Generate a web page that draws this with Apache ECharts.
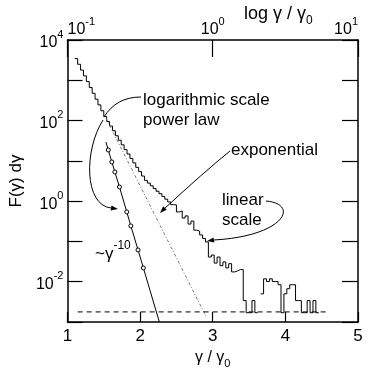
<!DOCTYPE html>
<html>
<head>
<meta charset="utf-8">
<script src="https://cdn.jsdelivr.net/npm/echarts@6/dist/echarts.min.js"></script>
<style>
html, body { margin: 0; padding: 0; background: #fff; }
#chart { width: 384px; height: 381px; }
</style>
</head>
<body>
<div id="chart"></div>
<script>
var FONT = 'Liberation Sans';

// histogram on the linear scale (bottom axis), bins of width 0.04 from 1.10
var binStart = 1.10;
var binWidth = 0.04;
var histF = [3460, 2500, 1790, 1290, 930, 660, 476, 340, 245, 175,
    126, 95, 73, 56, 42, 32.5, 25, 19, 14.8, 11.5,
    8.9, 6.9, 5.4, 4.2, 3.28, 2.81, 2.41, 2.05, 1.76, 1.53,
    1.31, 1.12, 0.955, 0.818, 0.81, 0.54, 0.57, 0.38, 0.43, 0.27,
    0.32, 0.19, 0.18, 0.145, 0.118, 0.097, 0.041, 0.046, 0.029, 0.041,
    0.025, 0.031, 0.022, 0.028, 0.0175, 0.0185, 0.020, 0.020, 0.0034, 0.0017,
    0.0017, 0.0034, 0.0017, null, 0.005, 0.0118, 0.0101, 0.0118, 0.0101, 0.0101,
    0.0084, 0.0017, 0.005, 0.0067, 0.0084, 0.0084, 0.0034, 0.0034, 0.0017, 0.0017,
    0.0034, 0.0017, 0.0034, 0.0017];

// exponential fit (linear scale)
var expGamma = [1.53, 2.905];
var expF = [115, 0.0014];

// power law ~gamma^-10 (log scale, top axis), first and last have no marker
var powGamma = [0.184, 0.191, 0.202, 0.212, 0.228, 0.256, 0.273, 0.306, 0.333, 0.429];
var powF = [29.4, 18.6, 9.4, 5.3, 2.25, 0.54, 0.243, 0.0615, 0.022, 0.001];

// one-count level
var floorGamma = [1.14, 4.56];
var floorF = [0.00178, 0.00178];

var yLabelExps = [-2, 0, 2, 4];

var histData = [];
histF.forEach(function (v, i) {
    var a = binStart + i * binWidth, b = a + binWidth;
    if (v == null) {
        histData.push([a, '-']);
    } else {
        histData.push([a, v]);
        histData.push([b, v]);
    }
});

var powData = powGamma.map(function (g, i) {
    var item = { value: [g, powF[i]] };
    if (i === 0 || i === powGamma.length - 1) item.symbol = 'none';
    return item;
});

var richNum = {
    b: { fontSize: 16, fontFamily: FONT, color: '#000', lineHeight: 22, verticalAlign: 'bottom' },
    s: { fontSize: 11, fontFamily: FONT, color: '#000', lineHeight: 14, verticalAlign: 'top' }
};
var richNumBig = {
    b: { fontSize: 17, fontFamily: FONT, color: '#000', lineHeight: 23, verticalAlign: 'bottom' },
    s: { fontSize: 12, fontFamily: FONT, color: '#000', lineHeight: 14, verticalAlign: 'top' }
};
var richSub = {
    b: { fontSize: 16, fontFamily: FONT, color: '#000', lineHeight: 20, verticalAlign: 'top' },
    u: { fontSize: 11, fontFamily: FONT, color: '#000', lineHeight: 14, verticalAlign: 'bottom', padding: [8, 0, 0, 0] }
};
var richSubBig = {
    b: { fontSize: 18, fontFamily: FONT, color: '#000', lineHeight: 22, verticalAlign: 'top' },
    u: { fontSize: 12, fontFamily: FONT, color: '#000', lineHeight: 14, verticalAlign: 'bottom', padding: [9, 0, 0, 0] }
};

function powLabel(v) {
    var e = Math.round(Math.log10(v));
    return '{b|10}{s|' + e + '}';
}

var lineAxis = { lineStyle: { color: '#000', width: 1.5 } };

var chart = echarts.init(document.getElementById('chart'));
chart.setOption({
    animation: false,
    backgroundColor: '#fff',
    grid: { left: 64, right: 26, top: 40, bottom: 59 },
    xAxis: [{
        type: 'value', position: 'bottom', min: 1, max: 5, interval: 1,
        axisLine: lineAxis,
        axisTick: { inside: true, length: 10, lineStyle: { color: '#000', width: 1.2 } },
        axisLabel: { color: '#000', fontSize: 17, fontFamily: FONT, margin: 6 },
        splitLine: { show: false },
        name: '{b|γ / γ}{u|0}', nameLocation: 'middle', nameGap: 23,
        nameTextStyle: { rich: richSub }
    }, {
        type: 'log', position: 'top', min: 0.1, max: 10, logBase: 10, interval: 1,
        axisLine: lineAxis,
        axisTick: { inside: true, length: 17, lineStyle: { color: '#000', width: 1.2 } },
        axisLabel: {
            margin: 2, formatter: powLabel, rich: richNum,
            alignMinLabel: 'left', alignMaxLabel: 'right'
        },
        splitLine: { show: false }
    }],
    yAxis: [{
        type: 'log', position: 'left', min: 0.001, max: 10000, logBase: 10, interval: 1,
        axisLine: lineAxis,
        axisTick: { inside: true, length: 15, lineStyle: { color: '#000', width: 1.2 } },
        axisLabel: {
            margin: 4, rich: richNum,
            formatter: function (v) {
                var e = Math.round(Math.log10(v));
                return yLabelExps.indexOf(e) >= 0 ? powLabel(v) : '';
            }
        },
        splitLine: { show: false },
        name: 'F(γ) dγ', nameLocation: 'middle', nameGap: 36,
        nameTextStyle: { color: '#000', fontSize: 17, fontFamily: FONT }
    }, {
        type: 'log', position: 'right', min: 0.001, max: 10000, logBase: 10, interval: 1,
        axisLine: lineAxis,
        axisTick: { inside: true, length: 16, lineStyle: { color: '#000', width: 1.2 } },
        axisLabel: { show: false },
        splitLine: { show: false }
    }],
    series: [{
        name: 'histogram', type: 'line', xAxisIndex: 0, yAxisIndex: 0,
        data: histData, showSymbol: false, connectNulls: false,
        lineStyle: { color: '#000', width: 1 }
    }, {
        name: 'exponential', type: 'line', xAxisIndex: 0, yAxisIndex: 0,
        data: expGamma.map(function (g, i) { return [g, expF[i]]; }),
        showSymbol: false,
        lineStyle: { color: '#777', width: 1, type: [3, 2, 1, 2] }
    }, {
        name: 'one count', type: 'line', xAxisIndex: 0, yAxisIndex: 0,
        data: floorGamma.map(function (g, i) { return [g, floorF[i]]; }),
        showSymbol: false,
        lineStyle: { color: '#000', width: 1, type: [5, 4] }
    }, {
        name: 'power law', type: 'line', xAxisIndex: 1, yAxisIndex: 0,
        data: powData, symbol: 'circle', symbolSize: 4,
        itemStyle: { color: '#fff', borderColor: '#000', borderWidth: 1 },
        lineStyle: { color: '#000', width: 1 }
    }]
});

// annotations
function arrowHead(tx, ty, fx, fy) {
    var dx = tx - fx, dy = ty - fy, d = Math.sqrt(dx * dx + dy * dy);
    dx /= d; dy /= d;
    var bx = tx - dx * 7, by = ty - dy * 7;
    return {
        type: 'polygon',
        shape: { points: [[tx, ty], [bx - dy * 2.5, by + dx * 2.5], [bx + dy * 2.5, by - dx * 2.5]] },
        style: { fill: '#000' }
    };
}
function txt(x, y, s, rich) {
    return {
        type: 'text', x: x, y: y,
        style: { text: s, fill: '#000', font: '17px "' + FONT + '"', verticalAlign: 'middle', rich: rich }
    };
}
var stroke = { stroke: '#000', lineWidth: 1, fill: null };

chart.setOption({
    graphic: [
        txt(244, 16, '{b|log γ / γ}{u|0}', richSubBig),
        txt(143, 100, 'logarithmic scale'),
        txt(143, 120, 'power law'),
        txt(231, 150, 'exponential'),
        txt(222, 200, 'linear'),
        txt(222, 220, 'scale'),
        txt(95, 251, '{b|~γ}{s|-10}', richNumBig),
        { type: 'bezierCurve', shape: { x1: 104, y1: 117, cpx1: 112, cpy1: 104, cpx2: 124, cpy2: 97, x2: 141, y2: 97 }, style: stroke },
        { type: 'bezierCurve', shape: { x1: 103, y1: 120, cpx1: 84, cpy1: 150, cpx2: 84, cpy2: 205, x2: 111, y2: 208 }, style: stroke },
        arrowHead(118, 209, 104, 207),
        { type: 'bezierCurve', shape: { x1: 230, y1: 151, cpx1: 204, cpy1: 172, x2: 164, y2: 209 }, style: stroke },
        arrowHead(160, 213, 168, 205),
        { type: 'bezierCurve', shape: { x1: 266, y1: 201, cpx1: 300, cpy1: 204, cpx2: 285, cpy2: 236, x2: 214, y2: 240 }, style: stroke },
        arrowHead(207, 241, 220, 239)
    ]
});
</script>
</body>
</html>
